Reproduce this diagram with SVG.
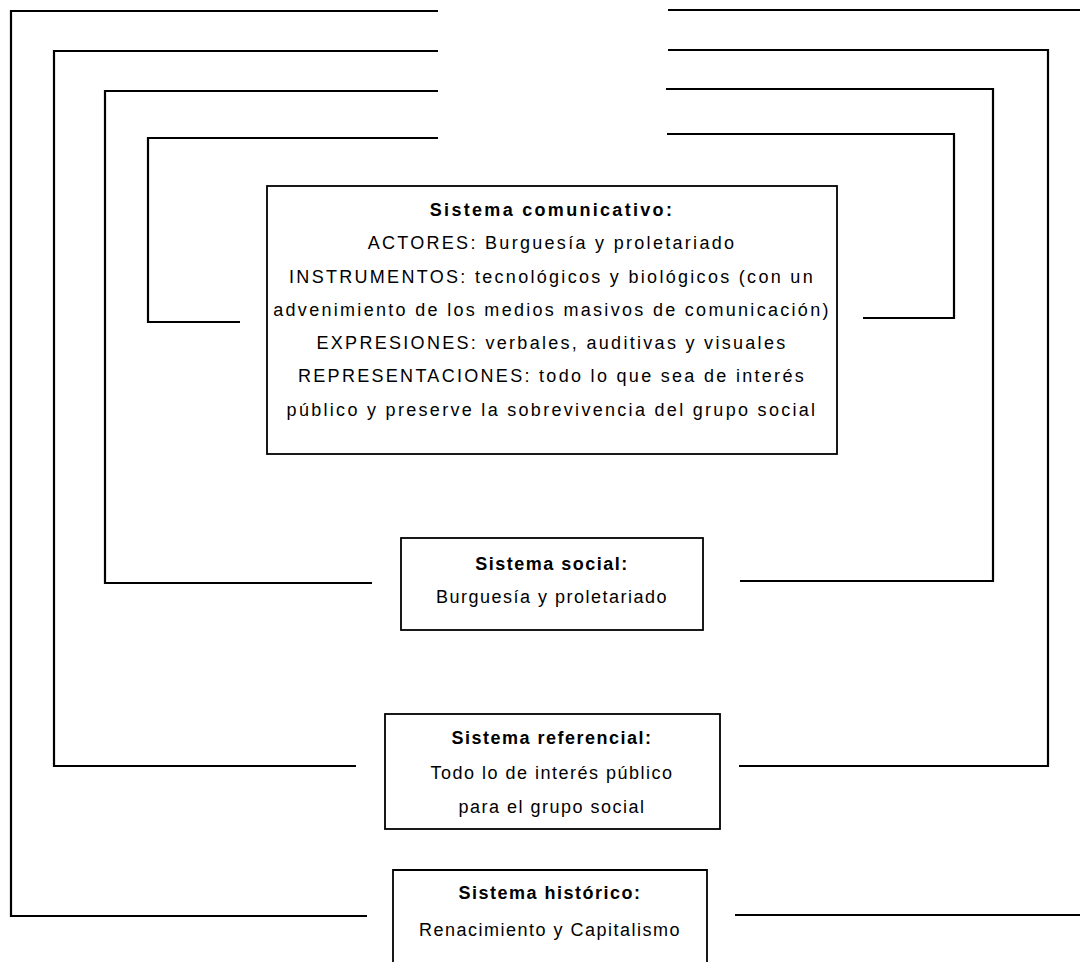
<svg xmlns="http://www.w3.org/2000/svg" width="1080" height="962" viewBox="0 0 1080 962">
<style>
.ln{fill:none;stroke:#000;stroke-width:2.2}
.box{fill:#fff;stroke:#000;stroke-width:1.8}
.t{font-family:"Liberation Sans",Arial,sans-serif;font-size:18px;text-anchor:middle;fill:#000;letter-spacing:1.5px}
.w{letter-spacing:2.3px}
.b{font-weight:bold}
</style>
<rect width="1080" height="962" fill="#fff"/>
<g id="connectors">
<path class="ln" d="M438,11 H11 V916 H367"/>
<path class="ln" d="M668,10 H1080"/>
<path class="ln" d="M735,915 H1080"/>
<path class="ln" d="M438,51 H54 V766 H356"/>
<path class="ln" d="M668,50 H1048 V766 H739"/>
<path class="ln" d="M438,91 H105 V583 H372"/>
<path class="ln" d="M666,89 H993 V581 H740"/>
<path class="ln" d="M438,138 H148 V322 H240"/>
<path class="ln" d="M667,134 H954 V318 H863"/>
</g>
<g id="comunicativo">
<rect class="box" x="267" y="186" width="570" height="268"/>
<text class="t w b" x="552" y="216">Sistema comunicativo:</text>
<text class="t w" x="552" y="249">ACTORES: Burguesía y proletariado</text>
<text class="t w" x="552" y="283">INSTRUMENTOS: tecnológicos y biológicos (con un</text>
<text class="t w" x="552" y="316">advenimiento de los medios masivos de comunicación)</text>
<text class="t w" x="552" y="349">EXPRESIONES: verbales, auditivas y visuales</text>
<text class="t w" x="552" y="382">REPRESENTACIONES: todo lo que sea de interés</text>
<text class="t w" x="552" y="416">público y preserve la sobrevivencia del grupo social</text>
</g>
<g id="social">
<rect class="box" x="401" y="538" width="302" height="92"/>
<text class="t b" x="552" y="570">Sistema social:</text>
<text class="t" x="552" y="603">Burguesía y proletariado</text>
</g>
<g id="referencial">
<rect class="box" x="385" y="714" width="335" height="115"/>
<text class="t b" x="552" y="744">Sistema referencial:</text>
<text class="t" x="552" y="779">Todo lo de interés público</text>
<text class="t" x="552" y="813">para el grupo social</text>
</g>
<g id="historico">
<path class="box" d="M393,962 V870 H707 V962"/>
<text class="t b" x="550" y="899">Sistema histórico:</text>
<text class="t" x="550" y="936">Renacimiento y Capitalismo</text>
</g>
</svg>
